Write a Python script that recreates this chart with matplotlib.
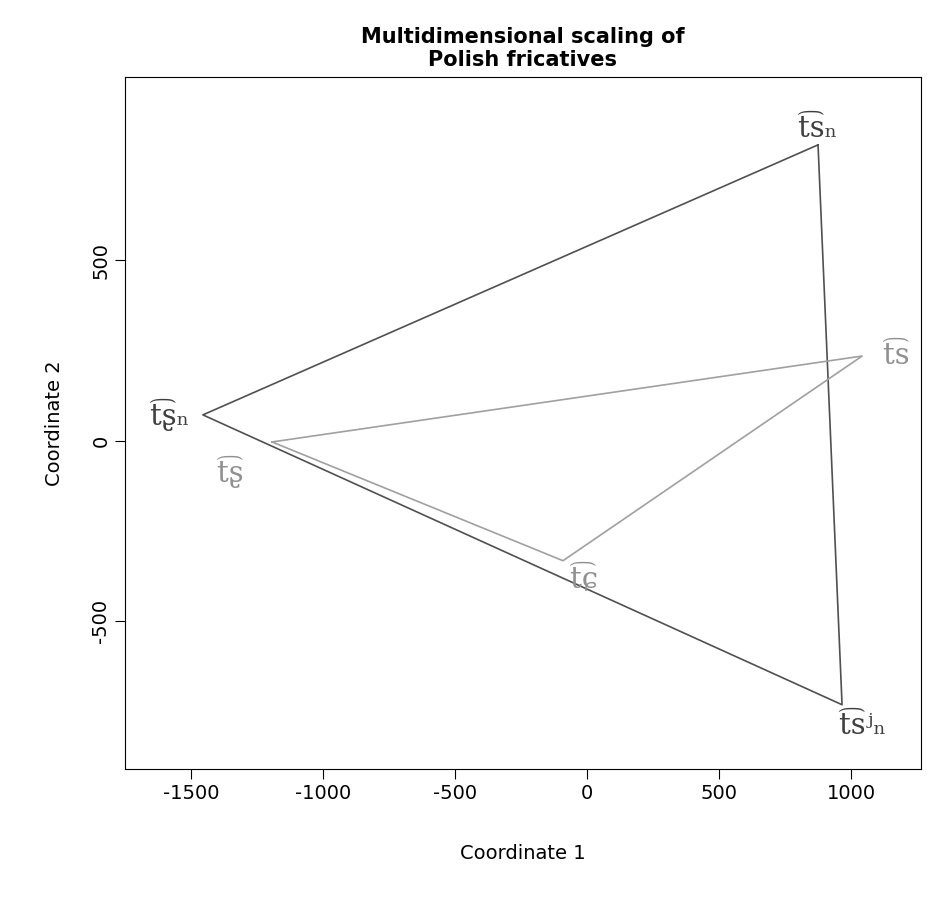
import matplotlib
matplotlib.use("Agg")
import matplotlib.pyplot as plt
plt.rcParams["axes.unicode_minus"] = False

dark_labels = ["t\u0361s\u2099", "t\u0361s\u02b2\u2099", "t\u0361\u0282\u2099"]
dark_x = [875, 966, -1455]
dark_y = [820, -731, 72]
gray_labels = ["t\u0361\u0282", "t\u0361s", "t\u0361\u0255"]
gray_x = [-1193, 1042, -91]
gray_y = [-3, 235, -332]

fig = plt.figure(figsize=(9.28, 8.99), dpi=100)
ax = fig.add_axes([125/928, 1-769/899, (921-125)/928, (769-77)/899])
ax.plot(dark_x + dark_x[:1], dark_y + dark_y[:1], color="#505050", lw=1.2)
ax.plot(gray_x + gray_x[:1], gray_y + gray_y[:1], color="#a0a0a0", lw=1.2)

fs = 21
off = {0: (0, 1, "center", "bottom"), 1: (15, -5, "center", "top"), 2: (-10, 0, "right", "center")}
for i, (l, x, y) in enumerate(zip(dark_labels, dark_x, dark_y)):
    dx, dy, ha, va = off[i]
    ax.annotate(l, (x, y), xytext=(dx, dy), textcoords="offset points", ha=ha, va=va,
                fontsize=fs, family="DejaVu Serif", color="#404040")
goff = {0: (-30, -10, "center", "top"), 1: (15, 0, "left", "center"), 2: (15, -3, "center", "top")}
for i, (l, x, y) in enumerate(zip(gray_labels, gray_x, gray_y)):
    dx, dy, ha, va = goff[i]
    ax.annotate(l, (x, y), xytext=(dx, dy), textcoords="offset points", ha=ha, va=va,
                fontsize=fs, family="DejaVu Serif", color="#909090")

ax.set_xlim(-1750, 1265)
ax.set_ylim(-909, 1008)
ax.set_xticks([-1500, -1000, -500, 0, 500, 1000])
ax.set_yticks([-500, 0, 500])
ax.tick_params(labelsize=14, length=7)
for t in ax.get_yticklabels():
    t.set_rotation(90); t.set_va("center")
ax.set_xlabel("Coordinate 1", fontsize=14, labelpad=30)
ax.set_ylabel("Coordinate 2", fontsize=14, labelpad=20)
ax.set_title("Multidimensional scaling of\nPolish fricatives", fontsize=15, fontweight="bold", pad=8)
fig.savefig("out.png", dpi=100)
